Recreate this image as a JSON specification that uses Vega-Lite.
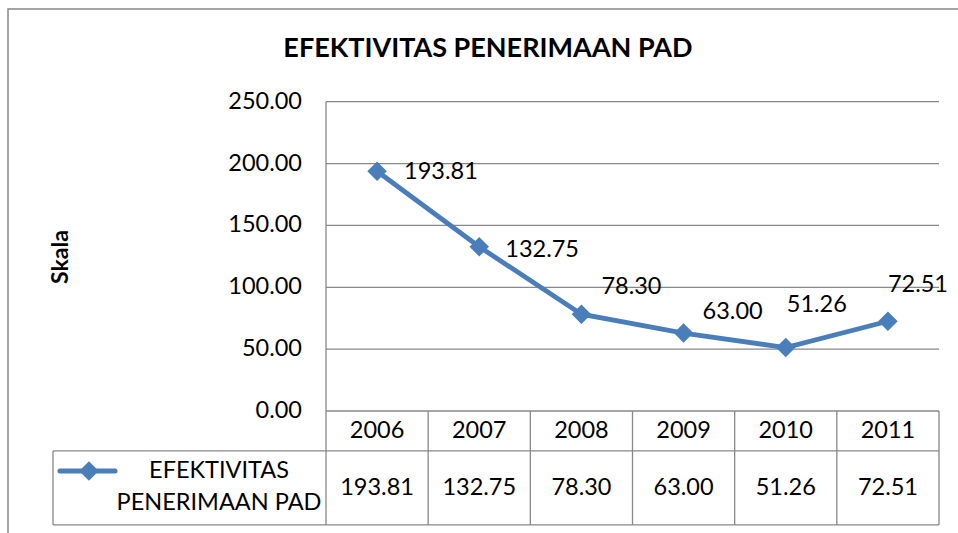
{
  "$schema": "https://vega.github.io/schema/vega-lite/v6.json",
  "autosize": "none",
  "width": 958,
  "height": 533,
  "padding": {"left": 8, "top": 9, "right": 0, "bottom": 0},
  "background": "white",
  "config": {
    "view": {"stroke": "#888888", "strokeWidth": 1.5},
    "text": {"font": "Lato", "fontSize": 23.5, "color": "#000000"}
  },
  "datasets": {
    "pad": [
      {"year": 2006, "value": 193.81},
      {"year": 2007, "value": 132.75},
      {"year": 2008, "value": 78.30},
      {"year": 2009, "value": 63.00},
      {"year": 2010, "value": 51.26},
      {"year": 2011, "value": 72.51}
    ],
    "yticks": [
      {"v": 0}, {"v": 50}, {"v": 100}, {"v": 150}, {"v": 200}, {"v": 250}
    ],
    "lines": [
      {"x": 2005.5, "x2": 2011.5, "y": 50, "y2": 50},
      {"x": 2005.5, "x2": 2011.5, "y": 100, "y2": 100},
      {"x": 2005.5, "x2": 2011.5, "y": 150, "y2": 150},
      {"x": 2005.5, "x2": 2011.5, "y": 200, "y2": 200},
      {"x": 2005.5, "x2": 2011.5, "y": 250, "y2": 250},
      {"x": 2005.5, "x2": 2011.5, "y": 0, "y2": 0},
      {"x": 2002.828, "x2": 2011.5, "y": -32.3, "y2": -32.3},
      {"x": 2002.828, "x2": 2011.5, "y": -92.1, "y2": -92.1},
      {"x": 2005.5, "x2": 2005.5, "y": 250, "y2": -92.1},
      {"x": 2006.5, "x2": 2006.5, "y": 0, "y2": -92.1},
      {"x": 2007.5, "x2": 2007.5, "y": 0, "y2": -92.1},
      {"x": 2008.5, "x2": 2008.5, "y": 0, "y2": -92.1},
      {"x": 2009.5, "x2": 2009.5, "y": 0, "y2": -92.1},
      {"x": 2010.5, "x2": 2010.5, "y": 0, "y2": -92.1},
      {"x": 2011.5, "x2": 2011.5, "y": 0, "y2": -92.1},
      {"x": 2002.828, "x2": 2002.828, "y": -32.3, "y2": -92.1}
    ]
  },
  "layer": [
    {
      "data": {"name": "lines"},
      "mark": {"type": "rule", "color": "#888888", "strokeWidth": 1.3},
      "encoding": {
        "x": {"field": "x", "type": "quantitative", "axis": null,
              "scale": {"domain": [2002.3875, 2011.7643], "nice": false, "zero": false}},
        "x2": {"field": "x2"},
        "y": {"field": "y", "type": "quantitative", "axis": null,
              "scale": {"domain": [-105.88, 324.93], "nice": false, "zero": false}},
        "y2": {"field": "y2"}
      }
    },
    {
      "data": {"name": "yticks"},
      "mark": {"type": "text", "align": "right", "baseline": "middle", "dx": -24},
      "encoding": {
        "x": {"datum": 2005.5, "type": "quantitative", "axis": null},
        "y": {"field": "v", "type": "quantitative", "axis": null},
        "text": {"field": "v", "format": ".2f"}
      }
    },
    {
      "data": {"values": [{}]},
      "mark": {"type": "text", "align": "center", "baseline": "middle", "angle": 270, "text": "Skala", "fontWeight": "bold", "fontSize": 23},
      "encoding": {
        "x": {"datum": 2002.906, "type": "quantitative", "axis": null},
        "y": {"datum": 124.5, "type": "quantitative", "axis": null}
      }
    },
    {
      "data": {"name": "pad"},
      "mark": {"type": "line", "color": "#4a7ebb", "strokeWidth": 4.8, "clip": false},
      "encoding": {
        "x": {"field": "year", "type": "quantitative", "axis": null},
        "y": {"field": "value", "type": "quantitative", "axis": null}
      }
    },
    {
      "data": {"name": "pad"},
      "mark": {"type": "point", "shape": "diamond", "filled": true, "size": 380, "color": "#4a7ebb", "opacity": 1},
      "encoding": {
        "x": {"field": "year", "type": "quantitative", "axis": null},
        "y": {"field": "value", "type": "quantitative", "axis": null}
      }
    },
    {
      "data": {"name": "pad"},
      "transform": [{"filter": "datum.year == 2006"}],
      "mark": {"type": "text", "align": "left", "baseline": "middle", "dx": 27, "dy": 1},
      "encoding": {
        "x": {"field": "year", "type": "quantitative", "axis": null},
        "y": {"field": "value", "type": "quantitative", "axis": null},
        "text": {"field": "value", "format": ".2f"}
      }
    },
    {
      "data": {"name": "pad"},
      "transform": [{"filter": "datum.year == 2007"}],
      "mark": {"type": "text", "align": "left", "baseline": "middle", "dx": 26, "dy": 3},
      "encoding": {
        "x": {"field": "year", "type": "quantitative", "axis": null},
        "y": {"field": "value", "type": "quantitative", "axis": null},
        "text": {"field": "value", "format": ".2f"}
      }
    },
    {
      "data": {"name": "pad"},
      "transform": [{"filter": "datum.year == 2008"}],
      "mark": {"type": "text", "align": "left", "baseline": "middle", "dx": 20, "dy": -27},
      "encoding": {
        "x": {"field": "year", "type": "quantitative", "axis": null},
        "y": {"field": "value", "type": "quantitative", "axis": null},
        "text": {"field": "value", "format": ".2f"}
      }
    },
    {
      "data": {"name": "pad"},
      "transform": [{"filter": "datum.year == 2009"}],
      "mark": {"type": "text", "align": "left", "baseline": "middle", "dx": 19, "dy": -21},
      "encoding": {
        "x": {"field": "year", "type": "quantitative", "axis": null},
        "y": {"field": "value", "type": "quantitative", "axis": null},
        "text": {"field": "value", "format": ".2f"}
      }
    },
    {
      "data": {"name": "pad"},
      "transform": [{"filter": "datum.year == 2010"}],
      "mark": {"type": "text", "align": "left", "baseline": "middle", "dx": 1, "dy": -43},
      "encoding": {
        "x": {"field": "year", "type": "quantitative", "axis": null},
        "y": {"field": "value", "type": "quantitative", "axis": null},
        "text": {"field": "value", "format": ".2f"}
      }
    },
    {
      "data": {"name": "pad"},
      "transform": [{"filter": "datum.year == 2011"}],
      "mark": {"type": "text", "align": "left", "baseline": "middle", "dx": 0, "dy": -36},
      "encoding": {
        "x": {"field": "year", "type": "quantitative", "axis": null},
        "y": {"field": "value", "type": "quantitative", "axis": null},
        "text": {"field": "value", "format": ".2f"}
      }
    },
    {
      "data": {"name": "pad"},
      "mark": {"type": "text", "align": "center", "baseline": "middle"},
      "encoding": {
        "x": {"field": "year", "type": "quantitative", "axis": null},
        "y": {"datum": -16.2, "type": "quantitative", "axis": null},
        "text": {"field": "year", "type": "nominal"}
      }
    },
    {
      "data": {"name": "pad"},
      "mark": {"type": "text", "align": "center", "baseline": "middle"},
      "encoding": {
        "x": {"field": "year", "type": "quantitative", "axis": null},
        "y": {"datum": -62.2, "type": "quantitative", "axis": null},
        "text": {"field": "value", "format": ".2f"}
      }
    },
    {
      "data": {"values": [{}]},
      "mark": {"type": "rule", "color": "#4a7ebb", "strokeWidth": 5, "strokeCap": "round"},
      "encoding": {
        "x": {"datum": 2002.896, "type": "quantitative", "axis": null},
        "x2": {"datum": 2003.435},
        "y": {"datum": -48.5, "type": "quantitative", "axis": null}
      }
    },
    {
      "data": {"values": [{}]},
      "mark": {"type": "point", "shape": "diamond", "filled": true, "size": 380, "color": "#4a7ebb", "opacity": 1},
      "encoding": {
        "x": {"datum": 2003.18, "type": "quantitative", "axis": null},
        "y": {"datum": -48.5, "type": "quantitative", "axis": null}
      }
    },
    {
      "data": {"values": [{}]},
      "mark": {"type": "text", "align": "center", "baseline": "middle", "text": "EFEKTIVITAS"},
      "encoding": {
        "x": {"datum": 2004.453, "type": "quantitative", "axis": null},
        "y": {"datum": -48.5, "type": "quantitative", "axis": null}
      }
    },
    {
      "data": {"values": [{}]},
      "mark": {"type": "text", "align": "center", "baseline": "middle", "text": "PENERIMAAN PAD"},
      "encoding": {
        "x": {"datum": 2004.453, "type": "quantitative", "axis": null},
        "y": {"datum": -74.4, "type": "quantitative", "axis": null}
      }
    },
    {
      "data": {"values": [{}]},
      "mark": {"type": "text", "align": "center", "baseline": "middle", "text": "EFEKTIVITAS PENERIMAAN PAD", "fontWeight": "bold", "fontSize": 27},
      "encoding": {
        "x": {"datum": 2007.085, "type": "quantitative", "axis": null},
        "y": {"datum": 292.6, "type": "quantitative", "axis": null}
      }
    }
  ]
}
